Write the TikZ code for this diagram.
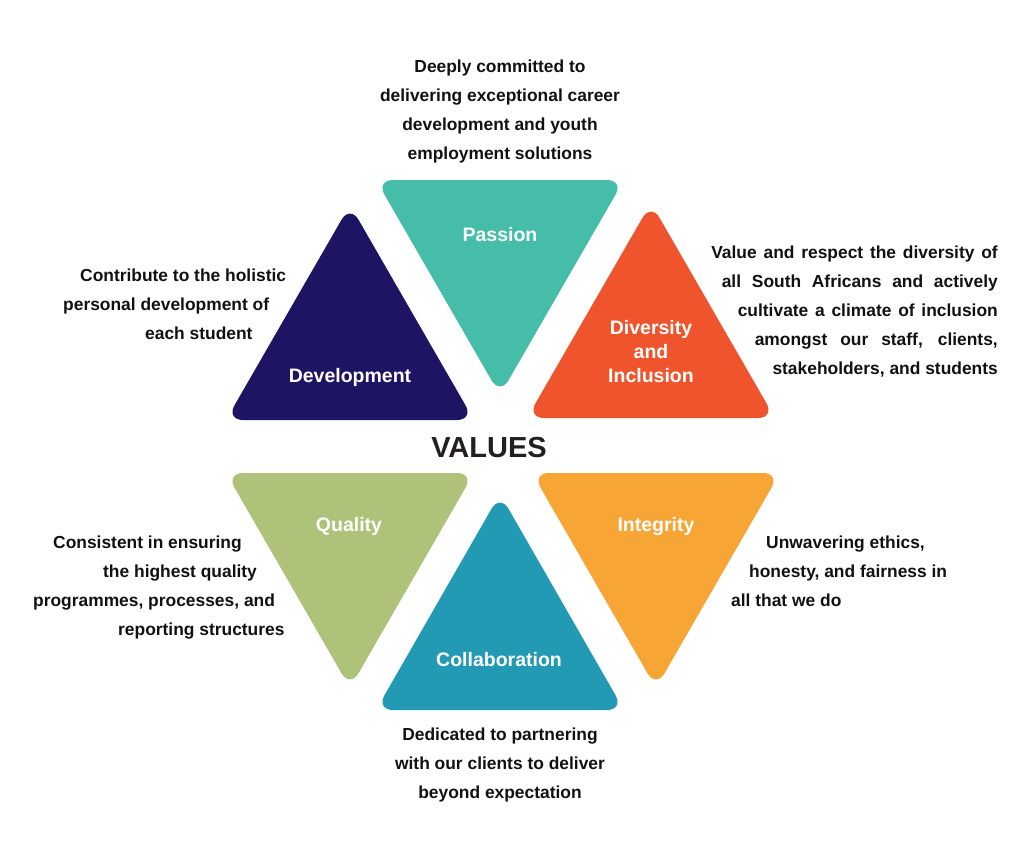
\documentclass[tikz,border=0pt]{standalone}
\usepackage{fontspec}
\setmainfont{Liberation Sans}
\definecolor{cPassion}{HTML}{45BDA8}
\definecolor{cDevel}{HTML}{1E1464}
\definecolor{cDivers}{HTML}{EF542C}
\definecolor{cQuality}{HTML}{AFC27A}
\definecolor{cCollab}{HTML}{239AB4}
\definecolor{cIntegr}{HTML}{F7A535}
\definecolor{cTitle}{HTML}{231F20}
\definecolor{cText}{HTML}{111111}
\tikzset{
  tri/.style={fill=#1, draw=none, rounded corners=17pt},
  lbl/.style={text=white, font=\fontsize{19.5}{24}\selectfont\bfseries, inner sep=0pt, anchor=base},
  desc/.style={text=cText, font=\fontsize{17.4}{20}\selectfont\bfseries, inner sep=0pt},
  dc/.style={desc, anchor=base},
  dw/.style={desc, anchor=base west},
  de/.style={desc, anchor=base east}
}
\begin{document}
\begin{tikzpicture}[x=1pt,y=-1pt]
\useasboundingbox (0,0) rectangle (1024,867);
% triangles
\fill[tri=cPassion] (376,180) -- (624,180) -- (500,395) -- cycle;
\fill[tri=cDevel]   (350,205) -- (474,420) -- (226,420) -- cycle;
\fill[tri=cDivers]  (651,203) -- (775,418) -- (527,418) -- cycle;
\fill[tri=cQuality] (226,473) -- (474,473) -- (350,688) -- cycle;
\fill[tri=cCollab]  (500,494) -- (624,710) -- (376,710) -- cycle;
\fill[tri=cIntegr]  (532,473) -- (780,473) -- (656,688) -- cycle;
% labels
\node[lbl] (passion) at (500,241) {Passion};
\node[lbl] (devel) at (350,382.5) {Development};
\node[lbl] (div1) at (651,334) {Diversity};
\node[lbl] (div2) at (651,358) {and};
\node[lbl] (div3) at (651,382) {Inclusion};
\node[lbl] (quality) at (349,531.5) {Quality};
\node[lbl] (collab) at (499,666.5) {Collaboration};
\node[lbl] (integr) at (656,531.5) {Integrity};
% title
\node[text=cTitle, font=\fontsize{29}{34}\selectfont\bfseries, inner sep=0pt, anchor=base] (values) at (489,457.5) {VALUES};
% top description
\node[dc] (t1) at (500,72.5) {Deeply committed to};
\node[dc] (t2) at (500,101.5) {delivering exceptional career};
\node[dc] (t3) at (500,130.5) {development and youth};
\node[dc] (t4) at (500,159.5) {employment solutions};
% development description
\node[dw] (l1) at (80,281) {Contribute to the holistic};
\node[dw] (l2) at (63,310) {personal development of};
\node[dw] (l3) at (145,339) {each student};
% diversity description
\node[de] (r1) at (998,258.5) {\makebox[286.5pt][s]{Value and respect the diversity of}};
\node[de] (r2) at (998,287.5) {\makebox[276pt][s]{all South Africans and actively}};
\node[de] (r3) at (998,316.5) {\makebox[260pt][s]{cultivate a climate of inclusion}};
\node[de] (r4) at (998,345.5) {\makebox[243pt][s]{amongst our staff, clients,}};
\node[de] (r5) at (998,374.5) {stakeholders, and students};
% quality description
\node[dw] (q1) at (53,548.5) {Consistent in ensuring};
\node[dw] (q2) at (103,577.5) {the highest quality};
\node[dw] (q3) at (33,606.5) {programmes, processes, and};
\node[dw] (q4) at (118,635.5) {reporting structures};
% integrity description
\node[dw] (i1) at (766,548.5) {Unwavering ethics,};
\node[dw] (i2) at (749,577.5) {honesty, and fairness in};
\node[dw] (i3) at (731,606.5) {all that we do};
% collaboration description
\node[dc] (b1) at (500,740) {Dedicated to partnering};
\node[dc] (b2) at (500,769) {with our clients to deliver};
\node[dc] (b3) at (500,798) {beyond expectation};
\end{tikzpicture}
\end{document}
